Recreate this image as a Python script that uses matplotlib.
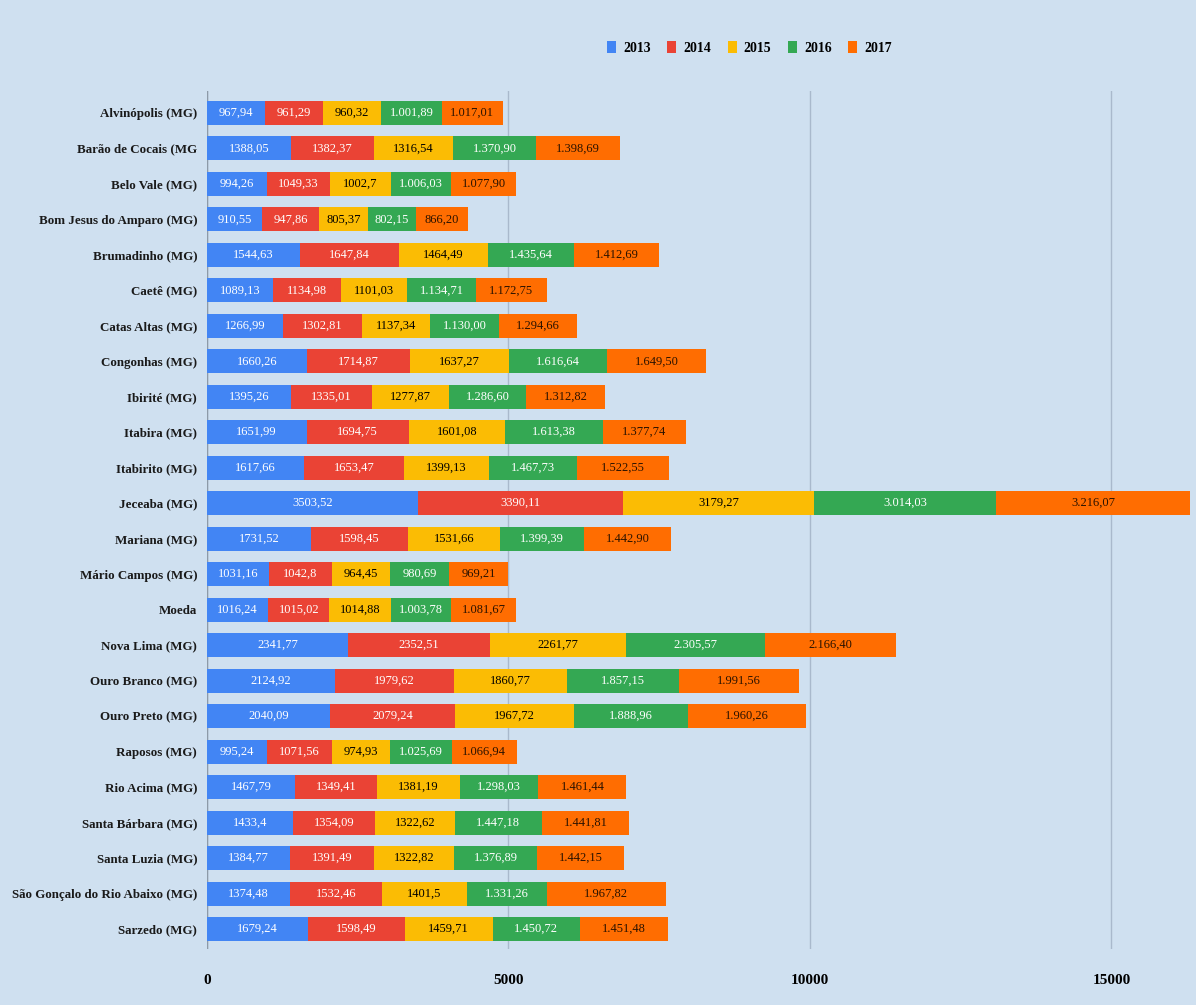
import matplotlib
matplotlib.use("Agg")
import matplotlib.pyplot as plt
import numpy as np

municipios = [
    "Alvinópolis (MG)", "Barão de Cocais (MG", "Belo Vale (MG)", "Bom Jesus do Amparo (MG)",
    "Brumadinho (MG)", "Caetê (MG)", "Catas Altas (MG)", "Congonhas (MG)", "Ibirité (MG)",
    "Itabira (MG)", "Itabirito (MG)", "Jeceaba (MG)", "Mariana (MG)", "Mário Campos (MG)",
    "Moeda", "Nova Lima (MG)", "Ouro Branco (MG)", "Ouro Preto (MG)", "Raposos (MG)",
    "Rio Acima (MG)", "Santa Bárbara (MG)", "Santa Luzia (MG)",
    "São Gonçalo do Rio Abaixo (MG)", "Sarzedo (MG)",
]
anos = ["2013", "2014", "2015", "2016", "2017"]

v2013 = [967.94, 1388.05, 994.26, 910.55, 1544.63, 1089.13, 1266.99, 1660.26, 1395.26,
         1651.99, 1617.66, 3503.52, 1731.52, 1031.16, 1016.24, 2341.77, 2124.92, 2040.09,
         995.24, 1467.79, 1433.4, 1384.77, 1374.48, 1679.24]
v2014 = [961.29, 1382.37, 1049.33, 947.86, 1647.84, 1134.98, 1302.81, 1714.87, 1335.01,
         1694.75, 1653.47, 3390.11, 1598.45, 1042.8, 1015.02, 2352.51, 1979.62, 2079.24,
         1071.56, 1349.41, 1354.09, 1391.49, 1532.46, 1598.49]
v2015 = [960.32, 1316.54, 1002.7, 805.37, 1464.49, 1101.03, 1137.34, 1637.27, 1277.87,
         1601.08, 1399.13, 3179.27, 1531.66, 964.45, 1014.88, 2261.77, 1860.77, 1967.72,
         974.93, 1381.19, 1322.62, 1322.82, 1401.5, 1459.71]
v2016 = [1001.89, 1370.90, 1006.03, 802.15, 1435.64, 1134.71, 1130.00, 1616.64, 1286.60,
         1613.38, 1467.73, 3014.03, 1399.39, 980.69, 1003.78, 2305.57, 1857.15, 1888.96,
         1025.69, 1298.03, 1447.18, 1376.89, 1331.26, 1450.72]
v2017 = [1017.01, 1398.69, 1077.90, 866.20, 1412.69, 1172.75, 1294.66, 1649.50, 1312.82,
         1377.74, 1522.55, 3216.07, 1442.90, 969.21, 1081.67, 2166.40, 1991.56, 1960.26,
         1066.94, 1461.44, 1441.81, 1442.15, 1967.82, 1451.48]

cores = ["#4285F4", "#EA4335", "#FBBC04", "#34A853", "#FF6D01"]
cores_texto = ["white", "white", "black", "white", "#2a1200"]
series = [v2013, v2014, v2015, v2016, v2017]


def fmt_simples(v):
    # 2 casas, sem zeros finais, vírgula decimal
    s = f"{v:.2f}".rstrip("0").rstrip(".")
    return s.replace(".", ",")


def fmt_milhar(v):
    s = f"{v:,.2f}"
    return s.replace(",", "#").replace(".", ",").replace("#", ".")


formatos = [fmt_simples, fmt_simples, fmt_simples, fmt_milhar, fmt_milhar]

serif = ["Liberation Serif", "DejaVu Serif"]
bg = "#cfe0f0"

fig = plt.figure(figsize=(11.96, 10.05), dpi=100, facecolor=bg)
ax = fig.add_axes([0.173, 0.056, 0.822, 0.853], facecolor=bg)

y = np.arange(len(municipios))
esquerda = np.zeros(len(municipios))
for serie, cor, ctxt, fmt, ano in zip(series, cores, cores_texto, formatos, anos):
    vals = np.array(serie)
    ax.barh(y, vals, left=esquerda, height=0.68, color=cor, label=ano, zorder=3)
    for yi, (l, v) in enumerate(zip(esquerda, vals)):
        ax.text(l + v / 2, yi, fmt(v), ha="center", va="center", color=ctxt,
                fontsize=9, family=serif, zorder=4)
    esquerda += vals

ax.set_xlim(0, esquerda.max())
ax.set_ylim(len(municipios) - 0.45, -0.6)
ax.set_xticks([0, 5000, 10000, 15000])
ax.set_xticklabels(["0", "5000", "10000", "15000"], family=serif, fontsize=11,
                   fontweight="bold")
ax.set_yticks(y)
ax.set_yticklabels(municipios, family=serif, fontsize=9.4, fontweight="bold",
                   color="#1a1a1a")
ax.tick_params(axis="both", length=0, pad=7)
ax.tick_params(axis="x", pad=18)
ax.grid(axis="x", color="#a9b9cc", linewidth=1, zorder=0)
ax.axvline(0, color="#8d9aa8", linewidth=1, zorder=2)
for s in ax.spines.values():
    s.set_visible(False)

ax.legend(loc="center", bbox_to_anchor=(0.552, 1.051), ncol=5, frameon=False,
          prop={"family": serif, "size": 10, "weight": "bold"}, handlelength=0.65,
          handleheight=1.0, handletextpad=0.5, columnspacing=1.2)

fig.savefig("out.png", dpi=100, facecolor=bg)
